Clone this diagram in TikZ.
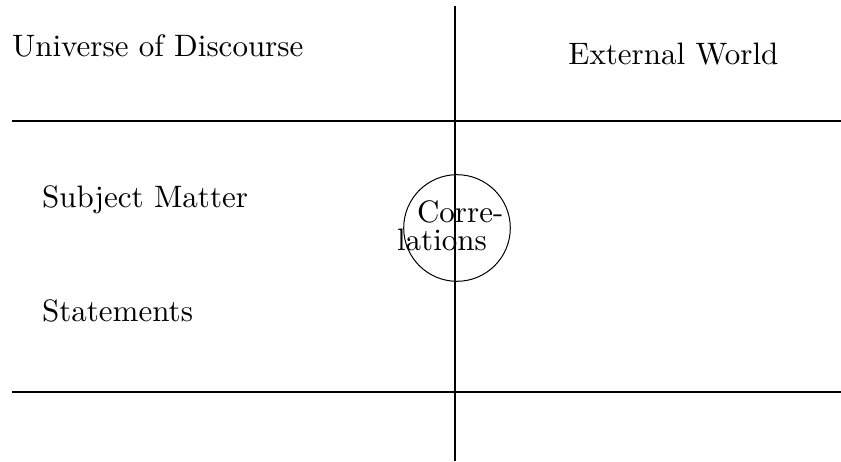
\documentclass[tikz,border=0pt]{standalone}
\usepackage{graphicx}
\usetikzlibrary{positioning}
\tikzset{
  lbl/.style={anchor=base west, inner sep=0pt, font=\fontsize{10}{12}\selectfont},
  rule/.style={line width=1pt},
  thickrule/.style={line width=1.35pt}
}
\newcommand{\bigtext}[1]{\scalebox{1.55}{#1}}

\begin{document}
\begin{tikzpicture}[x=5pt, y=5pt]
  \useasboundingbox (0,0) rectangle (84.1,46.1);
  % dividing lines
  \coordinate (vtop) at (45.5,45.5); \coordinate (vbot) at (45.5,0);
  \coordinate (hl) at (1.2,34.0); \coordinate (hr) at (84.1,34.0);
  \coordinate (ll) at (1.2,6.9); \coordinate (lr) at (84.1,6.9);
  \draw[line width=0.9pt] (vtop) -- (vbot);
  \draw[rule] (hl) -- (hr);
  \draw[thickrule] (ll) -- (lr);
  % labels
  \node[lbl] (univ) at (1.17,40.43) {\bigtext{Universe of Discourse}};
  \node[lbl] (ext) at (56.8,39.6) {\bigtext{External World}};
  \node[lbl] (subj) at (4.17,25.3) {\bigtext{Subject Matter}};
  \node[lbl] (stat) at (4.17,13.93) {\bigtext{Statements}};
  % correlations
  \node[draw, circle, line width=0.5pt, minimum size=53.3pt, inner sep=0pt] (corr) at (45.7,23.3) {};
  \node[lbl] (corre) at (41.67,23.8) {\bigtext{Corre-}};
  \node[lbl] (lat) at (39.67,21.1) {\bigtext{lations}};
\end{tikzpicture}
\end{document}
